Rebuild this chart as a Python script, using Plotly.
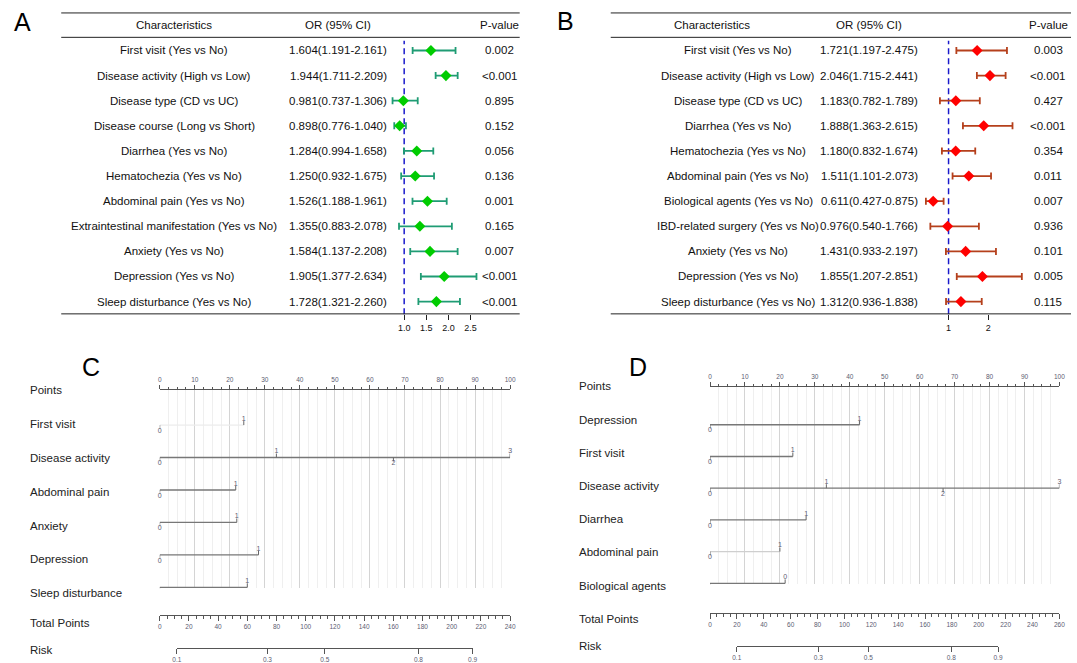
import plotly.graph_objects as go

W, H = 1077, 663

# ---------------- data ----------------
a_labels = ["First visit (Yes vs No)", "Disease activity (High vs Low)", "Disease type (CD vs UC)",
            "Disease course (Long vs Short)", "Diarrhea (Yes vs No)", "Hematochezia (Yes vs No)",
            "Abdominal pain (Yes vs No)", "Extraintestinal manifestation (Yes vs No)",
            "Anxiety (Yes vs No)", "Depression (Yes vs No)", "Sleep disturbance (Yes vs No)"]
a_or = [1.604, 1.944, 0.981, 0.898, 1.284, 1.250, 1.526, 1.355, 1.584, 1.905, 1.728]
a_lo = [1.191, 1.711, 0.737, 0.776, 0.994, 0.932, 1.188, 0.883, 1.137, 1.377, 1.321]
a_hi = [2.161, 2.209, 1.306, 1.040, 1.658, 1.675, 1.961, 2.078, 2.208, 2.634, 2.260]
a_p = ["0.002", "<0.001", "0.895", "0.152", "0.056", "0.136", "0.001", "0.165", "0.007", "<0.001", "<0.001"]

b_labels = ["First visit (Yes vs No)", "Disease activity (High vs Low)", "Disease type (CD vs UC)",
            "Diarrhea (Yes vs No)", "Hematochezia (Yes vs No)", "Abdominal pain (Yes vs No)",
            "Biological agents (Yes vs No)", "IBD-related surgery (Yes vs No)",
            "Anxiety (Yes vs No)", "Depression (Yes vs No)", "Sleep disturbance (Yes vs No)"]
b_or = [1.721, 2.046, 1.183, 1.888, 1.180, 1.511, 0.611, 0.976, 1.431, 1.855, 1.312]
b_lo = [1.197, 1.715, 0.782, 1.363, 0.832, 1.101, 0.427, 0.540, 0.933, 1.207, 0.936]
b_hi = [2.475, 2.441, 1.789, 2.615, 1.674, 2.073, 0.875, 1.766, 2.197, 2.851, 1.838]
b_p = ["0.003", "<0.001", "0.427", "<0.001", "0.354", "0.011", "0.007", "0.936", "0.101", "0.005", "0.115"]

headers = ["Characteristics", "OR (95% CI)", "P-value"]
a_ticks = [1.0, 1.5, 2.0, 2.5]
a_ticktext = ["1.0", "1.5", "2.0", "2.5"]
b_ticks = [1, 2]
b_ticktext = ["1", "2"]

c_vars = ["First visit", "Disease activity", "Abdominal pain", "Anxiety", "Depression", "Sleep disturbance"]
c_levels = [["0", "1"], ["0", "1", "2", "3"], ["0", "1"], ["0", "1"], ["0", "1"], ["0", "1"]]
c_points = [[0, 24.0], [0, 33.3, 66.7, 100], [0, 21.7], [0, 22.0], [0, 28.2], [0, 25.0]]
c_total_max = 240
c_risk_labels = ["0.1", "0.3", "0.5", "0.8", "0.9"]
c_risk_tp = [11.7, 73.8, 113.1, 177.2, 214.3]

d_vars = ["Depression", "First visit", "Disease activity", "Diarrhea", "Abdominal pain", "Biological agents"]
d_levels = [["0", "1"], ["0", "1"], ["0", "1", "2", "3"], ["0", "1"], ["0", "1"], ["1", "0"]]
d_points = [[0, 42.8], [0, 23.7], [0, 33.3, 66.7, 100], [0, 27.5], [0, 20.0], [0, 21.5]]
d_total_max = 260
d_risk_labels = ["0.1", "0.3", "0.5", "0.8", "0.9"]
d_risk_tp = [19.9, 80.6, 117.8, 179.5, 214.3]

# ---------------- styles / layout constants ----------------
FONT = "Liberation Sans, Arial, sans-serif"
TXT = "#111111"
TICKC = "#5c5c72"
TFS = 11.5


def px(x):
    return x / W


def py(y):
    return 1 - y / H


fig = go.Figure()

# ---------------- forest plots ----------------
forest = [
    dict(lab=a_labels, orv=a_or, lo=a_lo, hi=a_hi, p=a_p, xa="x", ya="y", dcol="#00CC00", ecol="#1F9C74",
         ticks=a_ticks, ticktext=a_ticktext, dom=(386, 480), ref=(403.3, 44.7),
         line=(56.8, 520), cx=(171, 336.7, 500), hx=(171, 336.7, 500)),
    dict(lab=b_labels, orv=b_or, lo=b_lo, hi=b_hi, p=b_p, xa="x2", ya="y2", dcol="#FF0000", ecol="#B5401C",
         ticks=b_ticks, ticktext=b_ticktext, dom=(925, 1035), ref=(953.3, 40.0),
         line=(612, 1077), cx=(741, 873, 1054), hx=(714, 873, 1054)),
]

shapes = []
annotations = []
layout_axes = {}
ROW_TOP, ROW_BOT = 38.1, 315.6

for f in forest:
    n = len(f["lab"])
    rows = list(range(n))
    fig.add_trace(go.Scatter(
        x=f["orv"], y=rows, mode="markers", xaxis=f["xa"], yaxis=f["ya"],
        marker=dict(symbol="diamond", size=8.5, color=f["dcol"], line=dict(width=0)),
        error_x=dict(type="data", symmetric=False,
                     array=[h - o for h, o in zip(f["hi"], f["orv"])],
                     arrayminus=[o - l for o, l in zip(f["orv"], f["lo"])],
                     color=f["ecol"], thickness=1.8, width=3.5),
        cliponaxis=False, showlegend=False, hoverinfo="skip"))
    x0p, x1p = f["dom"]
    refx, scale = f["ref"]
    rng = [1 + (x0p - refx) / scale, 1 + (x1p - refx) / scale]
    xname = "xaxis" if f["xa"] == "x" else "xaxis2"
    yname = "yaxis" if f["ya"] == "y" else "yaxis2"
    layout_axes[xname] = dict(domain=[px(x0p), px(x1p)], range=rng, anchor=f["ya"],
                              tickvals=f["ticks"], ticktext=f["ticktext"], ticks="outside",
                              ticklen=5, tickwidth=1, tickcolor="#222", showline=False,
                              showgrid=False, zeroline=False,
                              tickfont=dict(size=9, color=TXT, family=FONT))
    layout_axes[yname] = dict(domain=[py(ROW_BOT), py(ROW_TOP)], range=[n - 0.5, -0.5], anchor=f["xa"],
                              visible=False, showgrid=False, zeroline=False)
    shapes.append(dict(type="line", xref=f["xa"], yref=f["ya"] + " domain", x0=1, x1=1, y0=0, y1=0.99,
                       line=dict(color="#1A1ACC", width=1.5, dash="6px,4px"), layer="below"))
    lx0, lx1 = f["line"]
    for yy in (13, 37.5, 315.3):
        shapes.append(dict(type="line", xref="paper", yref="paper", x0=px(lx0), x1=px(lx1),
                           y0=py(yy), y1=py(yy), line=dict(color="#222", width=1)))
    for h, hx in zip(headers, f["hx"]):
        annotations.append(dict(text=h, xref="paper", yref="paper", x=px(hx), y=py(25.5),
                                showarrow=False, xanchor="center", yanchor="middle",
                                font=dict(size=TFS, color=TXT, family=FONT)))
    for i in rows:
        ortxt = f"{f['orv'][i]:.3f}({f['lo'][i]:.3f}-{f['hi'][i]:.3f})"
        for t, cx in zip((f["lab"][i], ortxt, f["p"][i]), f["cx"]):
            annotations.append(dict(text=t, xref="paper", yref=f["ya"], x=px(cx), y=i,
                                    showarrow=False, xanchor="center", yanchor="middle",
                                    font=dict(size=TFS, color=TXT, family=FONT)))

# ---------------- nomograms ----------------
nomos = [
    dict(vars=c_vars, levels=c_levels, points=c_points, tmax=c_total_max, rlab=c_risk_labels, rtp=c_risk_tp,
         xdom=(156.3, 510.3), top=392, row0=394.4, rstep=32.6, bottom=591, tp_y=618, risk_y=651,
         axes=("x3", "y3", "x4", "y4", "x5", "y5"), labx=23,
         laby=[391.5, 425.6, 459.8, 494, 528, 562, 596, 625.8, 653],
         light={"First visit": "#ECECEC"}),
    dict(vars=d_vars, levels=d_levels, points=d_points, tmax=d_total_max, rlab=d_risk_labels, rtp=d_risk_tp,
         xdom=(712.3, 1065.3), top=389, row0=394.84, rstep=31.86, bottom=587, tp_y=616, risk_y=649,
         axes=("x6", "y6", "x7", "y7", "x8", "y8"), labx=578,
         laby=[387.5, 421.7, 455, 488.5, 521.7, 555, 588.5, 621.7, 649],
         light={"Abdominal pain": "#CFCFCF"}),
]

NFS = 6.5
for nm in nomos:
    xa, ya, xt, yt, xr, yr = nm["axes"]
    x0p, x1p = nm["xdom"]
    r0 = nm["row0"]
    st = nm["rstep"]
    yrange = [(nm["bottom"] - r0) / st, (nm["top"] - r0) / st]
    dt = 4.0 / st
    for i, (v, levs, pts) in enumerate(zip(nm["vars"], nm["levels"], nm["points"])):
        r = i + 1
        col = nm["light"].get(v, "#777777")
        fig.add_trace(go.Scatter(x=[min(pts), max(pts)], y=[r, r], mode="lines", xaxis=xa, yaxis=ya,
                                 line=dict(color=col, width=1.3), showlegend=False, hoverinfo="skip",
                                 cliponaxis=False))
        order = sorted(range(len(pts)), key=lambda j: pts[j])
        tx, ty = [], []
        up_x, up_t, dn_x, dn_t = [], [], [], []
        for rank, j in enumerate(order):
            above = rank % 2 == 1
            tx += [pts[j], pts[j], None]
            ty += [r, r - dt if above else r + dt, None]
            if above:
                up_x.append(pts[j]); up_t.append(levs[j])
            else:
                dn_x.append(pts[j]); dn_t.append(levs[j])
        fig.add_trace(go.Scatter(x=tx, y=ty, mode="lines", xaxis=xa, yaxis=ya,
                                 line=dict(color="#666666", width=1), showlegend=False,
                                 hoverinfo="skip", cliponaxis=False))
        fig.add_trace(go.Scatter(x=up_x, y=[r - 0.6 * dt] * len(up_x), mode="text", text=up_t,
                                 textposition="top center", xaxis=xa, yaxis=ya,
                                 textfont=dict(size=NFS + 0.5, color=TICKC, family=FONT),
                                 showlegend=False, hoverinfo="skip", cliponaxis=False))
        fig.add_trace(go.Scatter(x=dn_x, y=[r + 0.6 * dt] * len(dn_x), mode="text", text=dn_t,
                                 textposition="bottom center", xaxis=xa, yaxis=ya,
                                 textfont=dict(size=NFS + 0.5, color=TICKC, family=FONT),
                                 showlegend=False, hoverinfo="skip", cliponaxis=False))
    fig.add_trace(go.Scatter(x=[0], y=[0], mode="markers", marker=dict(opacity=0), xaxis=xt, yaxis=yt,
                             showlegend=False, hoverinfo="skip"))
    fig.add_trace(go.Scatter(x=[nm["rtp"][0]], y=[0], mode="markers", marker=dict(opacity=0),
                             xaxis=xr, yaxis=yr, showlegend=False, hoverinfo="skip"))

    def k(name):
        return name.replace("x", "xaxis").replace("y", "yaxis")

    tickfont = dict(size=NFS, color=TICKC, family=FONT)
    layout_axes[k(xa)] = dict(domain=[px(x0p), px(x1p)], range=[0, 100], anchor=ya, side="top",
                              dtick=10, tick0=0, ticks="outside", ticklen=4.5, tickcolor="#555",
                              showline=True, linecolor="#555", linewidth=1, showgrid=True,
                              gridcolor="#D4D4D4", gridwidth=1, zeroline=False, tickfont=tickfont,
                              minor=dict(dtick=2.5, tick0=0, ticks="outside", ticklen=2.5, tickcolor="#555",
                                         showgrid=True, gridcolor="#EFEFEF", gridwidth=1))
    layout_axes[k(ya)] = dict(domain=[py(nm["bottom"]), py(nm["top"])], range=yrange, anchor=xa,
                              visible=False, showgrid=False, zeroline=False)
    layout_axes[k(xt)] = dict(domain=[px(x0p), px(x1p)], range=[0, nm["tmax"]], anchor=yt, side="bottom",
                              dtick=20, tick0=0, ticks="outside", ticklen=5, tickcolor="#555",
                              showline=True, linecolor="#555", linewidth=1, showgrid=False, zeroline=False,
                              tickfont=tickfont,
                              minor=dict(dtick=5, tick0=0, ticks="outside", ticklen=3, tickcolor="#555",
                                         showgrid=False))
    layout_axes[k(yt)] = dict(domain=[py(nm["tp_y"]), py(nm["tp_y"] - 10)], anchor=xt, visible=False,
                              range=[0, 1])
    sc = (x1p - x0p) / nm["tmax"]
    layout_axes[k(xr)] = dict(domain=[px(x0p + nm["rtp"][0] * sc), px(x0p + nm["rtp"][-1] * sc)],
                              range=[nm["rtp"][0], nm["rtp"][-1]], anchor=yr, side="bottom",
                              tickvals=nm["rtp"], ticktext=nm["rlab"], ticks="outside", ticklen=5,
                              tickcolor="#555", showline=True, linecolor="#555", linewidth=1,
                              showgrid=False, zeroline=False, tickfont=tickfont)
    layout_axes[k(yr)] = dict(domain=[py(nm["risk_y"]), py(nm["risk_y"] - 10)], anchor=xr, visible=False,
                              range=[0, 1])
    labels = ["Points"] + nm["vars"] + ["Total Points", "Risk"]
    for t, yy in zip(labels, nm["laby"]):
        annotations.append(dict(text=t, xref="paper", yref="paper", x=px(nm["labx"]), y=py(yy),
                                showarrow=False, xanchor="left", yanchor="middle",
                                font=dict(size=11.5, color="#222", family=FONT)))

for t, (x, y) in zip(["A", "B", "C", "D"], [(18, 22.5), (566, 21), (87, 369), (640, 369)]):
    annotations.append(dict(text=t, xref="paper", yref="paper", x=px(x), y=py(y), showarrow=False,
                            xanchor="center", yanchor="middle", font=dict(size=25, color="#000", family=FONT)))

fig.update_layout(width=W, height=H, margin=dict(l=0, r=0, t=0, b=0),
                  paper_bgcolor="white", plot_bgcolor="rgba(0,0,0,0)",
                  showlegend=False, shapes=shapes, annotations=annotations, **layout_axes)

fig.write_html("out.html", config={"displayModeBar": False},
               post_script="document.body.style.margin='0';document.body.style.overflow='hidden';")
